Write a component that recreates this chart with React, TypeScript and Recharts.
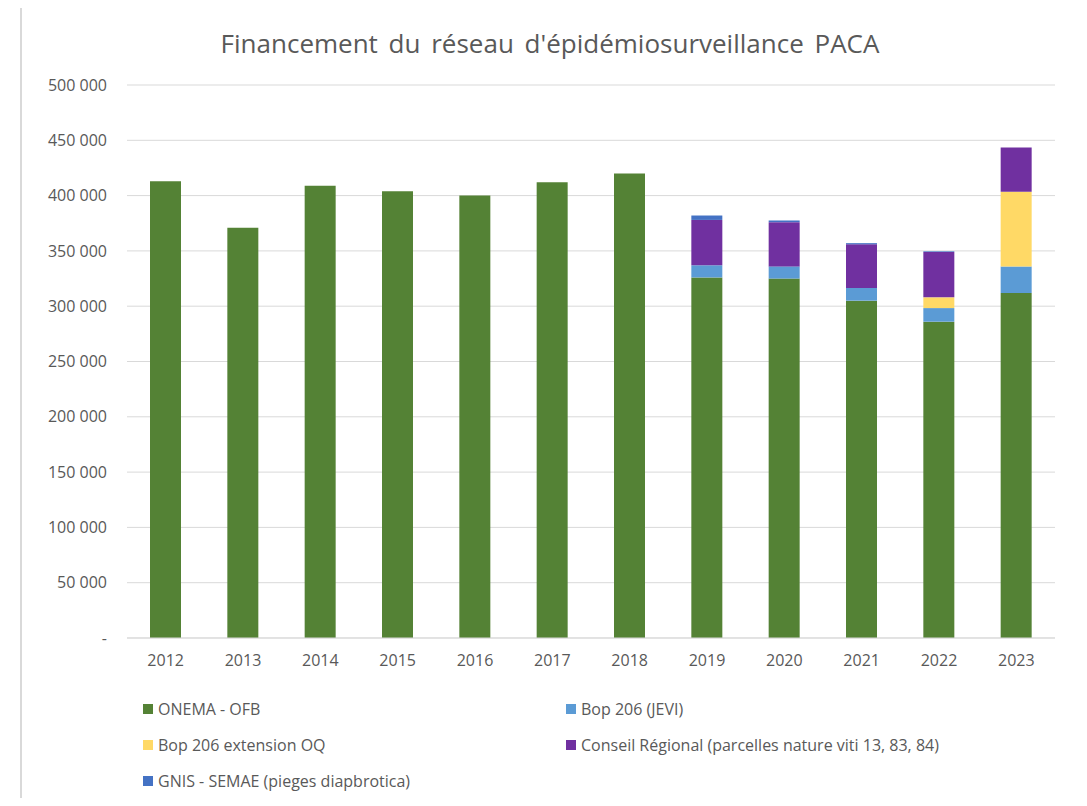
import { BarChart, Bar, XAxis, YAxis, CartesianGrid } from 'recharts';

const years = ['2012', '2013', '2014', '2015', '2016', '2017', '2018', '2019', '2020', '2021', '2022', '2023'];
const onemaOfb = [413000, 371000, 409000, 404000, 400000, 412000, 420000, 326000, 325000, 305000, 286000, 312000];
const bopJevi = [0, 0, 0, 0, 0, 0, 0, 11000, 11000, 11500, 12300, 24000];
const bopExtension = [0, 0, 0, 0, 0, 0, 0, 0, 0, 0, 9700, 67500];
const conseilRegional = [0, 0, 0, 0, 0, 0, 0, 41000, 40000, 39500, 41000, 40000];
const gnisSemae = [0, 0, 0, 0, 0, 0, 0, 4000, 1500, 1000, 600, 0];
const yTicks = [0, 50000, 100000, 150000, 200000, 250000, 300000, 350000, 400000, 450000, 500000];

const series = [
  { key: 'onema', name: 'ONEMA - OFB', color: '#548235' },
  { key: 'jevi', name: 'Bop 206 (JEVI)', color: '#5B9BD5' },
  { key: 'oq', name: 'Bop 206 extension OQ', color: '#FFD966' },
  { key: 'conseil', name: 'Conseil Régional (parcelles nature viti 13, 83, 84)', color: '#7030A0' },
  { key: 'gnis', name: 'GNIS - SEMAE (pieges diapbrotica)', color: '#4472C4' },
];

const data = years.map((year, i) => ({
  year,
  onema: onemaOfb[i],
  jevi: bopJevi[i],
  oq: bopExtension[i],
  conseil: conseilRegional[i],
  gnis: gnisSemae[i],
}));

const font = "'Open Sans', 'Liberation Sans', sans-serif";
const textColor = '#595959';

const fmt = (v: number) => (v === 0 ? '-' : v.toLocaleString('fr-FR').replace(/\s/g, ' '));

function LegendItem({ name, color, x, y }: { name: string; color: string; x: number; y: number }) {
  return (
    <div style={{ position: 'absolute', left: x, top: y - 11, height: 22, display: 'flex', alignItems: 'center', gap: 5, fontSize: 16, color: textColor, whiteSpace: 'nowrap' }}>
      <span style={{ width: 10, height: 10, background: color, display: 'inline-block' }} />
      {name}
    </div>
  );
}

export default function App() {
  const legendPos = [
    { x: 143, y: 709 },
    { x: 566, y: 709 },
    { x: 143, y: 745 },
    { x: 566, y: 745 },
    { x: 143, y: 781 },
  ];

  return (
    <div style={{ position: 'relative', width: 1087, height: 806, margin: -8, background: 'white', fontFamily: font, overflow: 'hidden' }}>
      {/* Frame */}
      <div style={{ position: 'absolute', left: 20, top: 2, width: 1057, height: 820, border: '2px solid #d9d9d9' }} />

      {/* Title */}
      <div style={{ position: 'absolute', left: 0, width: 1100, top: 25, textAlign: 'center', fontSize: 26, wordSpacing: 4, color: textColor }}>
        Financement du réseau d'épidémiosurveillance PACA
      </div>

      <div style={{ position: 'absolute', left: 0, top: 0 }}>
        <BarChart width={1087} height={690} data={data} margin={{ top: 85, right: 32, left: 27, bottom: 22 }} barSize={31}>
          <CartesianGrid vertical={false} stroke="#d9d9d9" />
          <XAxis
            dataKey="year"
            height={30}
            axisLine={{ stroke: '#d9d9d9' }}
            tickLine={false}
            tickSize={0}
            tickMargin={17}
            tick={{ fontSize: 16, fill: textColor, fontFamily: font }}
          />
          <YAxis
            width={100}
            domain={[0, 500000]}
            ticks={yTicks}
            axisLine={false}
            tickLine={false}
            tickSize={0}
            tickMargin={20}
            tickFormatter={fmt}
            tick={{ fontSize: 16, fill: textColor, fontFamily: font }}
          />
          {series.map((s) => (
            <Bar key={s.key} dataKey={s.key} name={s.name} stackId="a" fill={s.color} isAnimationActive={false} />
          ))}
        </BarChart>
      </div>

      {/* Legend */}
      {series.map((s, i) => (
        <LegendItem key={s.key} name={s.name} color={s.color} x={legendPos[i].x} y={legendPos[i].y} />
      ))}
    </div>
  );
}
